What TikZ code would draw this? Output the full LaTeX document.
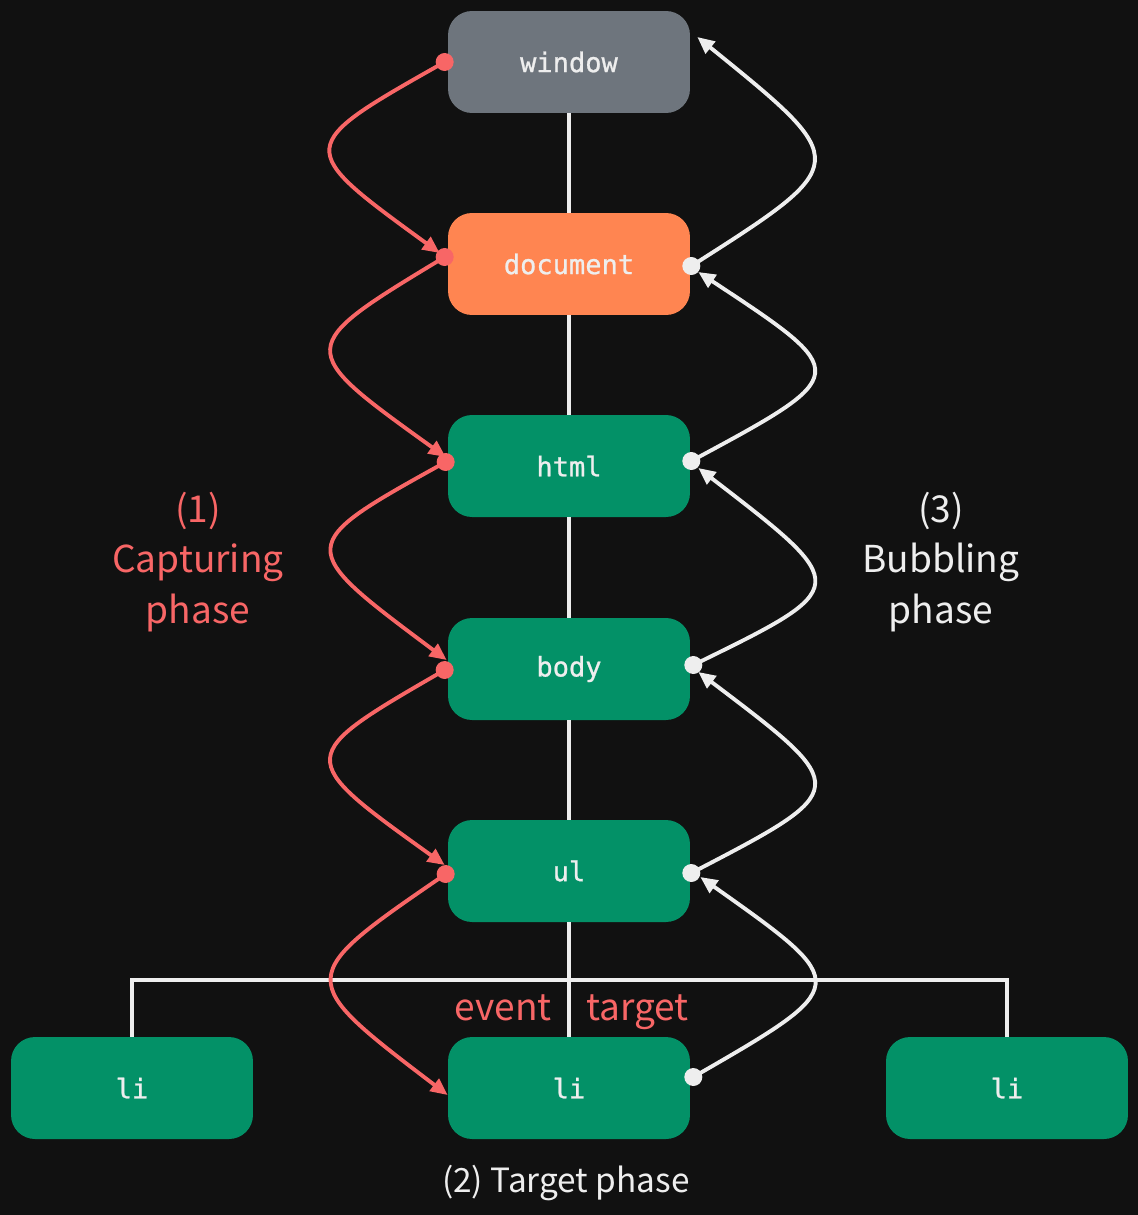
\documentclass[tikz,border=0pt]{standalone}
\usepackage{fontspec}
\usetikzlibrary{arrows.meta}
\newfontfamily\krfont{Noto Sans CJK KR}
\newfontfamily\boxfont[FakeBold=0.9]{DejaVu Sans Mono}
\definecolor{bgc}{HTML}{111111}
\definecolor{grayc}{HTML}{6E757D}
\definecolor{orangec}{HTML}{FF8551}
\definecolor{greenc}{HTML}{039167}
\definecolor{redc}{HTML}{F86666}
\definecolor{linec}{HTML}{EEEEEE}
\begin{document}
\begin{tikzpicture}[x=0.02cm,y=-0.02cm,
  box/.style={rounded corners=0.48cm, minimum width=4.84cm, minimum height=2.04cm,
    inner sep=0pt, text=linec, font=\boxfont\fontsize{15.4}{18}\selectfont},
  tree/.style={draw=linec, line width=2.2pt},
  capcurve/.style={draw=redc, line width=2.2pt, -{Triangle[length=0.34cm,width=0.3cm]}},
  bubcurve/.style={draw=linec, line width=2.2pt, -{Triangle[length=0.34cm,width=0.3cm]}},
  reddot/.style={fill=redc},
  whitedot/.style={fill=linec},
  biglabel/.style={font=\krfont\fontsize{21.1}{28.9}\selectfont, align=center, inner sep=0pt},
]
\fill[bgc] (0,0) rectangle (1138,1215);
\useasboundingbox (0,0) rectangle (1138,1215);

% boxes
\node[box, fill=grayc]   (window)   at (569,62)   {window};
\node[box, fill=orangec] (document) at (569,264)  {document};
\node[box, fill=greenc]  (html)     at (569,466)  {html};
\node[box, fill=greenc]  (body)     at (569,669)  {body};
\node[box, fill=greenc]  (ul)       at (569,871)  {ul};
\node[box, fill=greenc]  (li1)      at (132,1088) {li};
\node[box, fill=greenc]  (li2)      at (569,1088) {li};
\node[box, fill=greenc]  (li3)      at (1007,1088) {li};

% tree
\draw[tree] (window) -- (document);
\draw[tree] (document) -- (html);
\draw[tree] (html) -- (body);
\draw[tree] (body) -- (ul);
\draw[tree] (ul) -- (li2);
\draw[tree] (li1.north) -- ++(0,-57) -| (li3.north);

% labels
\node[biglabel, text=redc] (capl) at (198,562) {(1)\\Capturing\\phase};
\node[biglabel, text=linec] (bubl) at (941,562) {(3)\\Bubbling\\phase};
\node[biglabel, text=redc, anchor=base east] (ev) at (552,1020) {event};
\node[biglabel, text=redc, anchor=base west] (tg) at (586,1020) {target};
\node[font=\krfont\fontsize{19}{24}\selectfont, text=linec, anchor=base, inner sep=0pt] (tp) at (566,1192) {(2) Target phase};

% red coordinates
\coordinate (rw) at ([shift={(-3,0)}]window.west);
\coordinate (rd) at ([shift={(-3,-7)}]document.west);
\coordinate (rh) at ([shift={(-2,-4)}]html.west);
\coordinate (rb) at ([shift={(-3,1)}]body.west);
\coordinate (ru) at ([shift={(-2,3)}]ul.west);
\coordinate (ed) at ([shift={(-8,-11)}]document.west);
\coordinate (eh) at ([shift={(-2,-9)}]html.west);
\coordinate (eb) at ([shift={(-1,-9)}]body.west);
\coordinate (eu) at ([shift={(-3,-6)}]ul.west);
\coordinate (el) at ([shift={(0,7)}]li2.west);

% white coordinates
\coordinate (wd) at ([shift={(1,2)}]document.east);
\coordinate (wh) at ([shift={(1,-5)}]html.east);
\coordinate (wb) at ([shift={(3,-4)}]body.east);
\coordinate (wu) at ([shift={(1,2)}]ul.east);
\coordinate (wl) at ([shift={(3,-11)}]li2.east);
\coordinate (fw) at ([shift={(7,-25)}]window.east);
\coordinate (fd) at ([shift={(8,8)}]document.east);
\coordinate (fh) at ([shift={(8,2)}]html.east);
\coordinate (fb) at ([shift={(8,3)}]body.east);
\coordinate (fu) at ([shift={(10,6)}]ul.east);

% capturing curves
\draw[capcurve] (rw) .. controls (294,147) .. (ed);
\draw[capcurve] (rd) .. controls (294,348) .. (eh);
\draw[capcurve] (rh) .. controls (294,546) .. (eb);
\draw[capcurve] (rb) .. controls (294,757) .. (eu);
\draw[capcurve] (ru) .. controls (294,978) .. (el);

% bubbling curves
\draw[bubcurve] (wd) .. controls (853,163) .. (fw);
\draw[bubcurve] (wh) .. controls (853,374) .. (fd);
\draw[bubcurve] (wb) .. controls (853,587) .. (fh);
\draw[bubcurve] (wu) .. controls (853,789) .. (fb);
\draw[bubcurve] (wl) .. controls (853,985) .. (fu);

% dots
\foreach \p in {rw,rd,rh,rb,ru} \fill[reddot] (\p) circle (0.18cm);
\foreach \p in {wd,wh,wb,wu,wl} \fill[whitedot] (\p) circle (0.18cm);
\end{tikzpicture}
\end{document}
